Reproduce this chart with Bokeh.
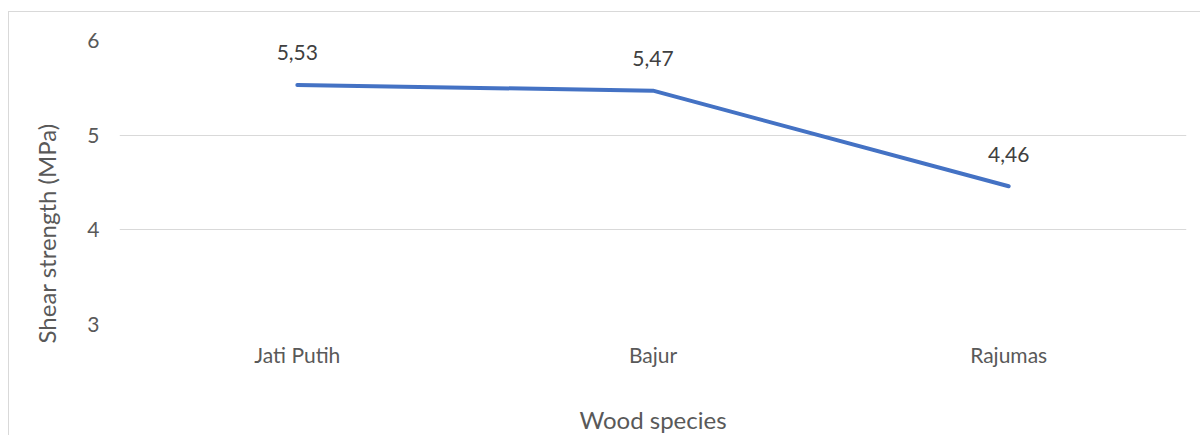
from bokeh.plotting import figure
from bokeh.models import FactorRange, Range1d, FixedTicker, ColumnDataSource, LabelSet, Title
from bokeh.core.properties import value
from bokeh.embed import file_html
from bokeh.resources import INLINE

species = ["Jati Putih", "Bajur", "Rajumas"]
shear = [5.53, 5.47, 4.46]
y_ticks = [3, 4, 5, 6]

labels = [f"{v:.2f}".replace(".", ",") for v in shear]
src = ColumnDataSource(dict(x=species, y=shear, t=labels))

FONT = "Lato"
GRAY = "#595959"

p = figure(x_range=FactorRange(*species, range_padding=0), y_range=Range1d(3, 6),
           width=1192, height=424, output_backend="svg", toolbar_location=None,
           min_border_left=108, min_border_right=15, min_border_top=28, min_border_bottom=111)
p.margin = (11, 0, 0, 8)
p.styles = {"border-left": "1px solid #d9d9d9", "border-top": "1px solid #d9d9d9"}
p.outline_line_color = None
p.background_fill_color = "white"

p.line(x="x", y="y", source=src, line_color="#4472C4", line_width=4, line_cap="round", line_join="round")
p.add_layout(LabelSet(x="x", y="y", text="t", source=src, y_offset=32, text_align="center",
                      text_baseline="middle", text_font=value(FONT), text_font_size="21px",
                      text_color="#404040"))

p.yaxis.ticker = FixedTicker(ticks=y_ticks)
p.ygrid.grid_line_color = "#d9d9d9"
p.ygrid.grid_line_width = 1
p.xgrid.grid_line_color = None

for ax in (p.xaxis[0], p.yaxis[0]):
    ax.axis_line_color = None
    ax.major_tick_line_color = None
    ax.minor_tick_line_color = None
    ax.major_label_text_font = FONT
    ax.major_label_text_font_size = "21px"
    ax.major_label_text_color = GRAY
    ax.axis_label_text_font = FONT
    ax.axis_label_text_font_size = "24px"
    ax.axis_label_text_font_style = "normal"
    ax.axis_label_text_color = GRAY

p.xaxis.axis_label = "Wood species"
p.xaxis.major_label_standoff = 11
p.xaxis.axis_label_standoff = 35
p.yaxis.major_label_standoff = 14

ytitle = Title(text="Shear strength (MPa)", align="left", offset=-19, standoff=44,
               vertical_align="top",
               text_font=FONT, text_font_size="24px", text_font_style="normal",
               text_color=GRAY)
p.add_layout(ytitle, "left")

open("out.html", "w").write(file_html(p, INLINE))
